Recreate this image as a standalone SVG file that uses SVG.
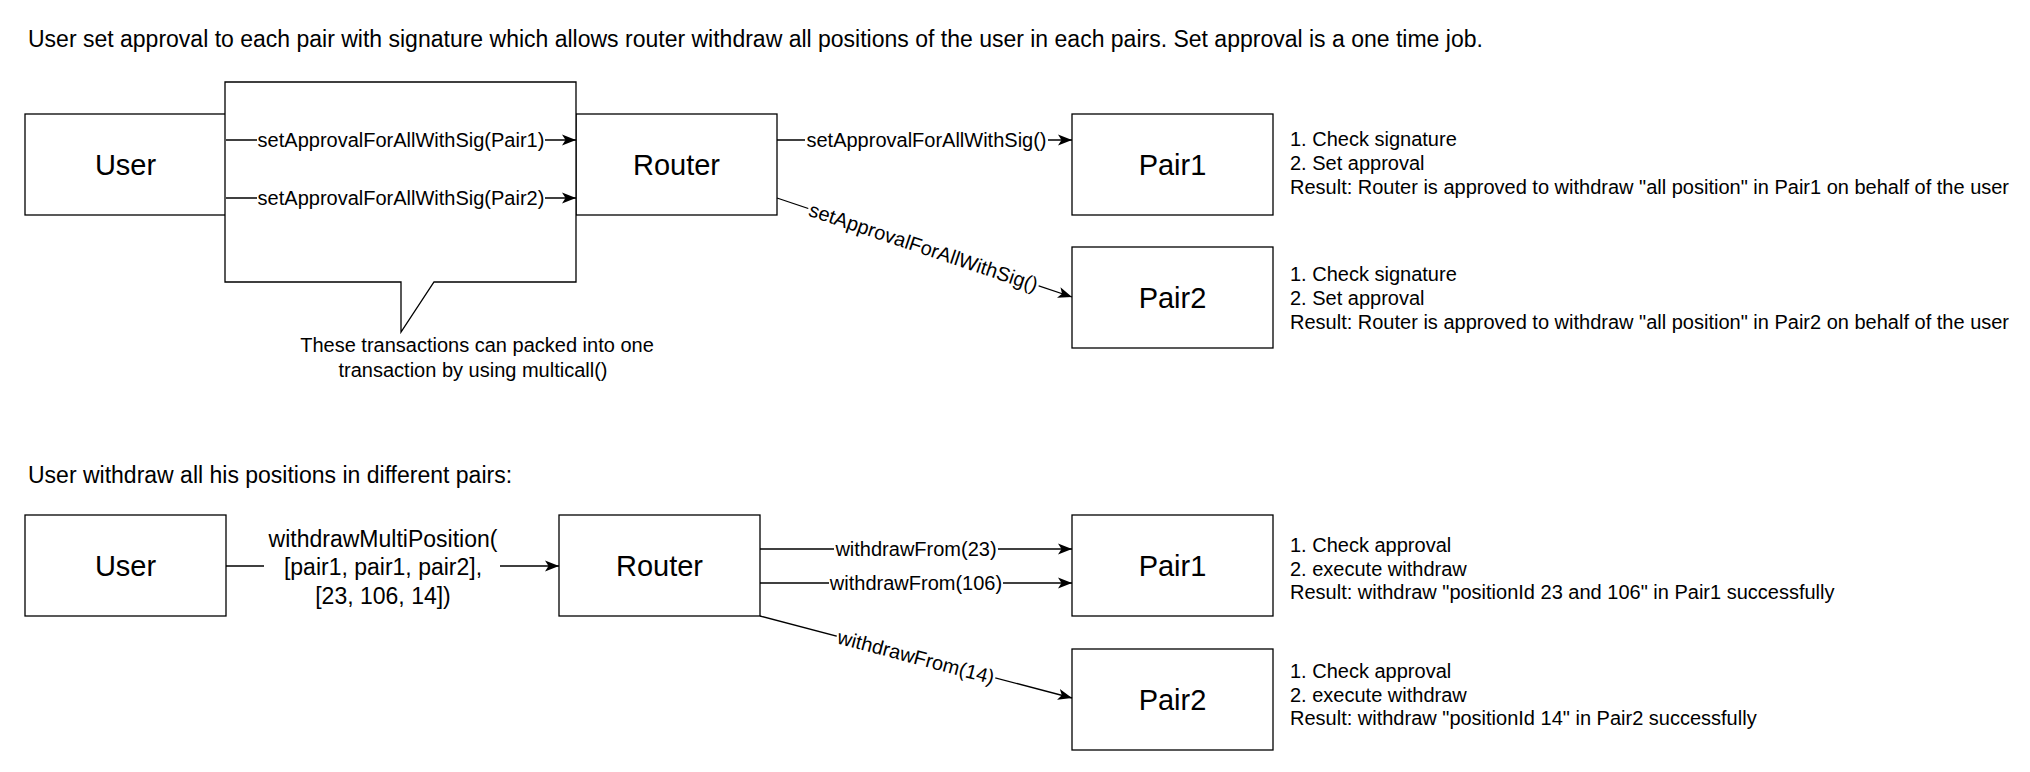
<svg xmlns="http://www.w3.org/2000/svg" width="2030" height="772" viewBox="0 0 2030 772">
<style>
text{font-family:"Liberation Sans",Arial,Helvetica,sans-serif;fill:#000}
.box{fill:#fff;stroke:#000;stroke-width:1.3}
.node{font-size:29px;text-anchor:middle}
.lbl{font-size:20px;text-anchor:middle}
.desc{font-size:20px}
.head{font-size:23px}
.big{font-size:23px;text-anchor:middle}
.edge{fill:none;stroke:#000;stroke-width:1.3}
.bg{fill:#fff}
</style>
<defs>
<marker id="arr" markerWidth="16" markerHeight="12" refX="14" refY="6" orient="auto" markerUnits="userSpaceOnUse">
<path d="M0,0.5 L14,6 L0,11.5 L3.5,6 Z" fill="#000"/>
</marker>
</defs>
<rect width="2030" height="772" fill="#fff"/>

<text class="head" x="28" y="47">User set approval to each pair with signature which allows router withdraw all positions of the user in each pairs. Set approval is a one time job.</text>

<g id="user1"><rect class="box" x="25" y="114" width="201" height="101"/><text class="node" x="125.5" y="175">User</text></g>
<g id="router1"><rect class="box" x="576" y="114" width="201" height="101"/><text class="node" x="676.5" y="175">Router</text></g>
<g id="callout"><path class="box" d="M225,82 L576,82 L576,282 L434,282 L401,332 L401,282 L225,282 Z"/>
<text class="lbl" x="477" y="352">These transactions can packed into one</text>
<text class="lbl" x="473" y="377">transaction by using multicall()</text></g>
<g id="pair1a"><rect class="box" x="1072" y="114" width="201" height="101"/><text class="node" x="1172.5" y="175">Pair1</text></g>
<g id="pair2a"><rect class="box" x="1072" y="247" width="201" height="101"/><text class="node" x="1172.5" y="308">Pair2</text></g>
<g id="desc1"><text class="desc" x="1290" y="146">1. Check signature</text><text class="desc" x="1290" y="170">2. Set approval</text><text class="desc" x="1290" y="194">Result: Router is approved to withdraw "all position" in Pair1 on behalf of the user</text></g>
<g id="desc2"><text class="desc" x="1290" y="280.5">1. Check signature</text><text class="desc" x="1290" y="304.5">2. Set approval</text><text class="desc" x="1290" y="328.5">Result: Router is approved to withdraw "all position" in Pair2 on behalf of the user</text></g>

<text class="head" x="28" y="483">User withdraw all his positions in different pairs:</text>

<g id="user2"><rect class="box" x="25" y="515" width="201" height="101"/><text class="node" x="125.5" y="576">User</text></g>
<g id="router2"><rect class="box" x="559" y="515" width="201" height="101"/><text class="node" x="659.5" y="576">Router</text></g>
<g id="pair1b"><rect class="box" x="1072" y="515" width="201" height="101"/><text class="node" x="1172.5" y="576">Pair1</text></g>
<g id="pair2b"><rect class="box" x="1072" y="649" width="201" height="101"/><text class="node" x="1172.5" y="710">Pair2</text></g>
<g id="desc3"><text class="desc" x="1290" y="552">1. Check approval</text><text class="desc" x="1290" y="575.5">2. execute withdraw</text><text class="desc" x="1290" y="599">Result: withdraw "positionId 23 and 106" in Pair1 successfully</text></g>
<g id="desc4"><text class="desc" x="1290" y="678">1. Check approval</text><text class="desc" x="1290" y="701.5">2. execute withdraw</text><text class="desc" x="1290" y="725">Result: withdraw "positionId 14" in Pair2 successfully</text></g>

<g id="connectors">
<line class="edge" x1="226" y1="140" x2="576" y2="140" marker-end="url(#arr)"/>
<rect class="bg" x="257" y="129" width="288" height="22"/>
<text class="lbl" x="401" y="147">setApprovalForAllWithSig(Pair1)</text>
<line class="edge" x1="226" y1="198" x2="576" y2="198" marker-end="url(#arr)"/>
<rect class="bg" x="257" y="187" width="288" height="22"/>
<text class="lbl" x="401" y="205">setApprovalForAllWithSig(Pair2)</text>

<line class="edge" x1="777" y1="140" x2="1072" y2="140" marker-end="url(#arr)"/>
<rect class="bg" x="805" y="129" width="243" height="22"/>
<text class="lbl" x="926.5" y="147">setApprovalForAllWithSig()</text>

<line class="edge" x1="777" y1="198" x2="1072" y2="297" marker-end="url(#arr)"/>
<g transform="translate(923.5,247) rotate(18.55)"><rect class="bg" x="-121.5" y="-11" width="243" height="22"/><text class="lbl" x="0" y="7">setApprovalForAllWithSig()</text></g>

<line class="edge" x1="226" y1="566" x2="559" y2="566" marker-end="url(#arr)"/>
<rect class="bg" x="264" y="524" width="236" height="86"/>
<text class="big" x="383" y="546.5">withdrawMultiPosition(</text>
<text class="big" x="383" y="575">[pair1, pair1, pair2],</text>
<text class="big" x="383" y="603.5">[23, 106, 14])</text>

<line class="edge" x1="760" y1="549" x2="1072" y2="549" marker-end="url(#arr)"/>
<rect class="bg" x="834" y="538" width="164" height="22"/>
<text class="lbl" x="916" y="556">withdrawFrom(23)</text>
<line class="edge" x1="760" y1="583" x2="1072" y2="583" marker-end="url(#arr)"/>
<rect class="bg" x="829" y="572" width="174" height="22"/>
<text class="lbl" x="916" y="590">withdrawFrom(106)</text>

<line class="edge" x1="760" y1="616" x2="1072" y2="698" marker-end="url(#arr)"/>
<g transform="translate(916,657) rotate(14.78)"><rect class="bg" x="-82" y="-11" width="164" height="22"/><text class="lbl" x="0" y="7">withdrawFrom(14)</text></g>
</g>
</svg>
